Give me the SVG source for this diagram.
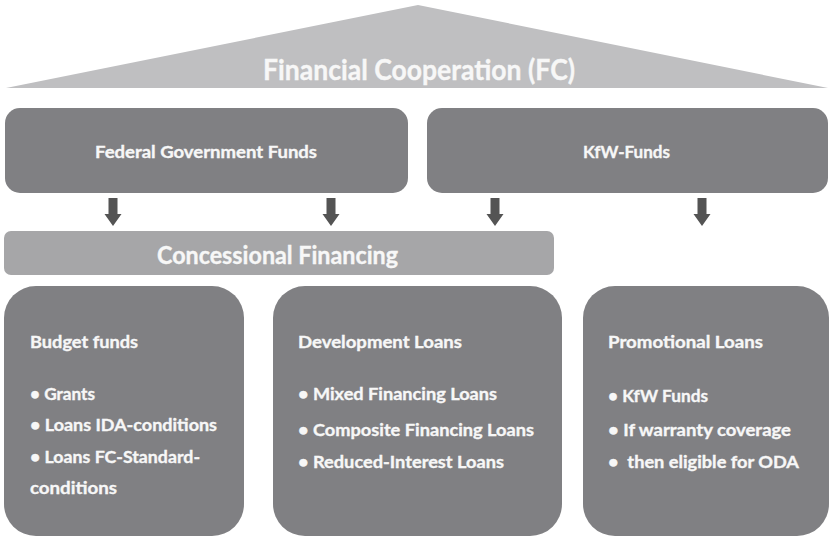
<svg xmlns="http://www.w3.org/2000/svg" width="832" height="537" viewBox="0 0 832 537">
<style>
.dark{fill:#808083}
.t{fill:#f7f7f7;stroke:#f7f7f7;stroke-width:0.35;font-family:Lato,"Liberation Sans",sans-serif;font-weight:bold}
.b{font-size:17px}
.arr{fill:#545454}
</style>
<defs>
<path id="arrow" d="M-4.5,0 H4.5 V16 H8.5 L0,28 L-8.5,16 H-4.5 Z"/>
</defs>
<rect width="832" height="537" fill="#ffffff"/>
<g id="fc">
<polygon points="418,5 828,88 6,88" fill="#bfbfc1"/>
<text class="t" x="263" y="80" font-size="28" textLength="312" lengthAdjust="spacingAndGlyphs">Financial Cooperation (FC)</text>
</g>
<g id="federal">
<rect class="dark" x="5" y="108" width="403" height="85" rx="15"/>
<text class="t" x="95" y="158" font-size="17" textLength="222" lengthAdjust="spacingAndGlyphs">Federal Government Funds</text>
</g>
<g id="kfw">
<rect class="dark" x="427" y="108" width="401" height="85" rx="15"/>
<text class="t" x="583" y="158" font-size="17" textLength="87" lengthAdjust="spacingAndGlyphs">KfW-Funds</text>
</g>
<g id="connectors" class="arr">
<use href="#arrow" x="113" y="198"/>
<use href="#arrow" x="331" y="198"/>
<use href="#arrow" x="495" y="198"/>
<use href="#arrow" x="702" y="198"/>
</g>
<g id="concessional">
<rect x="4" y="231" width="550" height="44" rx="7" fill="#a6a6a8"/>
<text class="t" x="157" y="264" font-size="24" textLength="241" lengthAdjust="spacingAndGlyphs">Concessional Financing</text>
</g>
<g id="budget">
<rect class="dark" x="4" y="286" width="240" height="250" rx="32"/>
<text class="t b" x="30" y="348" textLength="108" lengthAdjust="spacingAndGlyphs">Budget funds</text>
<text class="t b" x="30" y="400" textLength="65" lengthAdjust="spacingAndGlyphs">• Grants</text>
<text class="t b" x="30" y="431" textLength="187" lengthAdjust="spacingAndGlyphs">• Loans IDA-conditions</text>
<text class="t b" x="30" y="463" textLength="170" lengthAdjust="spacingAndGlyphs">• Loans FC-Standard-</text>
<text class="t b" x="30" y="494" textLength="87" lengthAdjust="spacingAndGlyphs">conditions</text>
</g>
<g id="development">
<rect class="dark" x="273" y="286" width="289" height="250" rx="32"/>
<text class="t b" x="298" y="348" textLength="164" lengthAdjust="spacingAndGlyphs">Development Loans</text>
<text class="t b" x="298" y="400" textLength="199" lengthAdjust="spacingAndGlyphs">• Mixed Financing Loans</text>
<text class="t b" x="298" y="436" textLength="236" lengthAdjust="spacingAndGlyphs">• Composite Financing Loans</text>
<text class="t b" x="298" y="468" textLength="206" lengthAdjust="spacingAndGlyphs">• Reduced-Interest Loans</text>
</g>
<g id="promotional">
<rect class="dark" x="583" y="286" width="246" height="250" rx="32"/>
<text class="t b" x="608" y="348" textLength="155" lengthAdjust="spacingAndGlyphs">Promotional Loans</text>
<text class="t b" x="608" y="402" textLength="100" lengthAdjust="spacingAndGlyphs">• KfW Funds</text>
<text class="t b" x="608" y="436" textLength="183" lengthAdjust="spacingAndGlyphs">• If warranty coverage</text>
<text class="t b" x="608" y="468" textLength="191" lengthAdjust="spacingAndGlyphs" style="white-space:pre">•  then eligible for ODA</text>
</g>
</svg>
